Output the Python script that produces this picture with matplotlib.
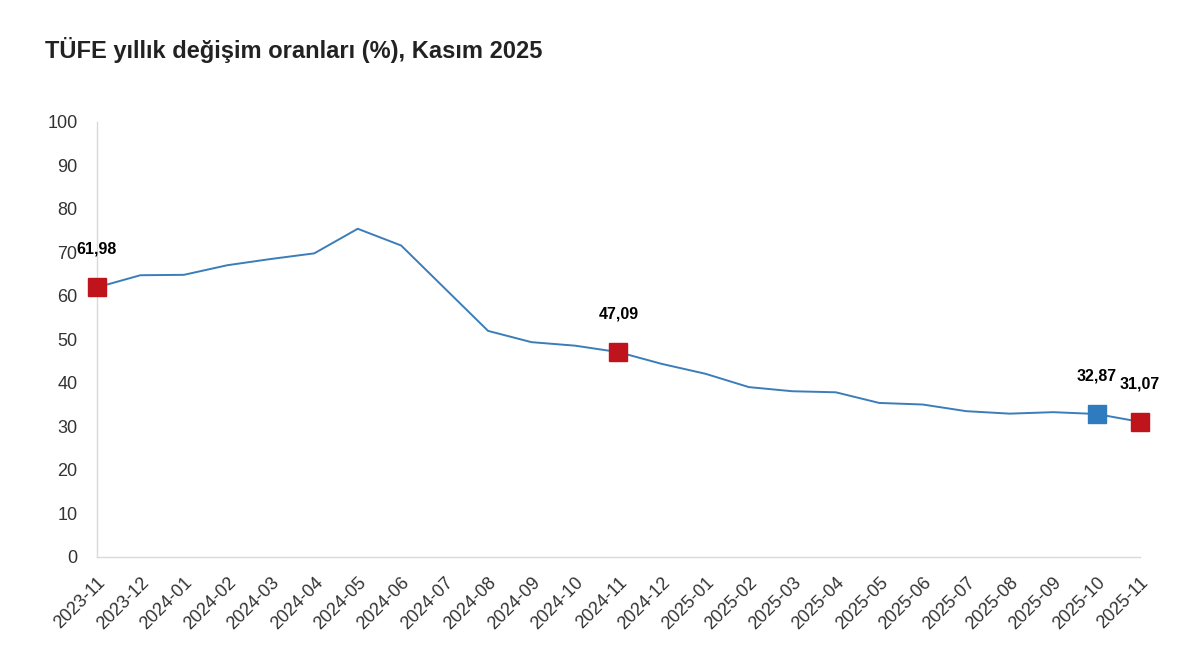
import matplotlib.pyplot as plt

# TÜFE yıllık değişim oranları (%)
aylar = ["2023-11", "2023-12", "2024-01", "2024-02", "2024-03", "2024-04",
         "2024-05", "2024-06", "2024-07", "2024-08", "2024-09", "2024-10",
         "2024-11", "2024-12", "2025-01", "2025-02", "2025-03", "2025-04",
         "2025-05", "2025-06", "2025-07", "2025-08", "2025-09", "2025-10",
         "2025-11"]
oranlar = [61.98, 64.77, 64.86, 67.07, 68.50, 69.80, 75.45, 71.60, 61.78,
           51.97, 49.38, 48.58, 47.09, 44.38, 42.12, 39.05, 38.10, 37.86,
           35.41, 35.05, 33.52, 32.95, 33.29, 32.87, 31.07]

# işaretlenen noktalar
kirmizi = ["2023-11", "2024-11", "2025-11"]
mavi = ["2025-10"]

plt.rcParams['font.family'] = ['Liberation Sans', 'DejaVu Sans']

fig = plt.figure(figsize=(12, 6.68), dpi=100)
ax = fig.add_axes([0.0808, 0.1662, 0.8692, 0.6512])

x = list(range(len(aylar)))
ax.plot(x, oranlar, color='#3a7dba', linewidth=1.4, zorder=2)

for i, ay in enumerate(aylar):
    if ay in kirmizi or ay in mavi:
        renk = '#c0141c' if ay in kirmizi else '#2f7bc0'
        ax.plot(i, oranlar[i], marker='s', markersize=13, color=renk,
                markeredgecolor=renk, zorder=3, clip_on=False)
        ax.annotate(f"{oranlar[i]:.2f}".replace(".", ","), (i, oranlar[i]),
                    xytext=(0, 22), textcoords='offset points',
                    ha='center', va='bottom', fontsize=11.5,
                    fontweight='bold', color='black')

ax.set_xlim(0, len(aylar) - 1)
ax.set_ylim(0, 100)
ax.set_yticks(range(0, 101, 10))
ax.set_xticks(x)
ax.set_xticklabels(aylar, rotation=45, ha='right', rotation_mode='anchor')
ax.tick_params(axis='both', length=0, labelsize=13, colors='#333333')
ax.tick_params(axis='y', pad=14)
ax.tick_params(axis='x', pad=12)

for s in ['top', 'right']:
    ax.spines[s].set_visible(False)
for s in ['left', 'bottom']:
    ax.spines[s].set_color('#d9d9d9')
    ax.spines[s].set_linewidth(1.0)

fig.text(0.0375, 0.925, "TÜFE yıllık değişim oranları (%), Kasım 2025",
         fontsize=17, fontweight='bold', color='#222222', va='center')

fig.savefig("out.png", dpi=100)
